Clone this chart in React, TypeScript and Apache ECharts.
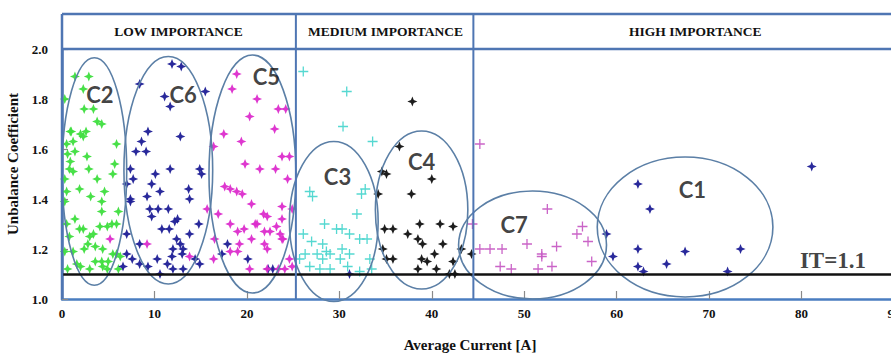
import React, { useEffect, useRef } from "react";
import * as echarts from "echarts";

// ---------- data ----------
const xTickValues = [0, 10, 20, 30, 40, 50, 60, 70, 80, 90];
const yTickValues = [1.0, 1.2, 1.4, 1.6, 1.8, 2.0];

const importanceNames = ["LOW IMPORTANCE", "MEDIUM IMPORTANCE", "HIGH IMPORTANCE"];
const importanceBounds = [0, 25.3, 44.5, 93];
const importanceLabelX = [12.6, 35.0, 68.5];

const itThreshold = 1.1;

const c2Points = [
  [1.4, 1.89], [2.9, 1.89], [2.3, 1.84], [0.3, 1.8], [2.4, 1.76], [3.4, 1.76], [3.8, 1.71], [4.3, 1.7],
  [2.6, 1.67], [2.3, 1.65], [1.0, 1.67], [1.2, 1.63], [0.5, 1.62], [1.4, 1.59], [0.9, 1.55], [0.8, 1.52],
  [1.2, 1.51], [2.9, 1.52], [3.8, 1.48], [4.6, 1.43], [5.5, 1.5], [5.9, 1.62], [0.3, 1.48], [0.5, 1.43],
  [1.9, 1.44], [4.3, 1.35], [6.1, 1.35], [1.4, 1.32], [2.3, 1.28], [3.4, 1.26], [4.1, 1.29], [4.9, 1.29],
  [5.4, 1.3], [5.9, 1.3], [0.5, 1.3], [2.8, 1.22], [3.6, 1.21], [4.4, 1.2], [1.2, 1.19], [5.5, 1.18],
  [6.3, 1.17], [4.3, 1.15], [4.4, 1.13], [1.6, 1.14], [0.6, 1.12], [3.0, 1.12], [6.1, 1.12],
  [0.9, 1.67], [2.0, 1.66], [0.6, 1.58], [2.7, 1.57], [5.7, 1.54], [3.1, 1.41], [4.3, 1.39],
  [0.3, 1.39], [1.9, 1.28], [3.0, 1.25], [0.8, 1.25], [5.9, 1.18], [2.0, 1.13], [5.0, 1.15],
  [0.3, 1.19], [3.6, 1.15], [4.9, 1.12], [2.4, 1.2]
];

const c6Points = [
  [11.9, 1.94], [12.9, 1.93], [8.4, 1.86], [11.1, 1.81], [11.7, 1.77], [15.5, 1.83], [9.3, 1.67],
  [12.8, 1.65], [8.6, 1.63], [8.0, 1.59], [9.1, 1.59], [7.4, 1.52], [11.7, 1.52], [7.7, 1.48],
  [10.1, 1.5], [9.7, 1.46], [10.6, 1.43], [14.9, 1.52], [15.1, 1.5], [13.7, 1.44], [13.8, 1.4],
  [9.2, 1.41], [7.4, 1.39], [9.5, 1.36], [10.4, 1.36], [11.5, 1.36], [9.7, 1.33], [12.5, 1.32],
  [12.2, 1.31], [11.6, 1.28], [10.8, 1.28], [14.8, 1.3], [7.0, 1.26], [12.4, 1.24], [12.8, 1.22],
  [13.1, 1.2], [13.8, 1.26], [8.4, 1.22], [12.0, 1.2], [10.3, 1.16], [11.9, 1.17], [13.0, 1.18],
  [14.4, 1.16], [8.4, 1.14], [9.3, 1.13], [11.4, 1.14], [12.0, 1.12], [10.6, 1.1], [13.1, 1.12],
  [14.9, 1.14], [7.0, 1.18], [7.0, 1.46], [7.4, 1.4], [7.6, 1.16], [6.6, 1.13],
  [17.9, 1.22], [20.1, 1.16], [22.8, 1.12], [22.3, 1.12], [17.3, 1.18], [31.1, 1.1]
];

const c5Points = [
  [18.9, 1.9], [18.4, 1.84], [21.1, 1.8], [20.3, 1.73], [23.4, 1.76], [23.0, 1.68], [17.5, 1.66],
  [19.4, 1.63], [16.4, 1.61], [23.8, 1.57], [19.8, 1.54], [21.4, 1.52], [23.1, 1.52], [24.4, 1.48],
  [17.6, 1.45], [18.2, 1.44], [18.9, 1.43], [19.5, 1.42], [20.5, 1.38], [21.8, 1.34], [22.2, 1.33],
  [23.8, 1.37], [16.9, 1.34], [23.8, 1.32], [18.2, 1.3], [20.9, 1.3], [21.1, 1.3], [23.2, 1.29],
  [19.0, 1.27], [19.7, 1.28], [21.9, 1.27], [22.5, 1.27], [23.6, 1.26], [23.9, 1.24], [16.5, 1.24],
  [19.2, 1.22], [20.5, 1.24], [21.9, 1.22], [23.8, 1.24], [18.2, 1.19], [19.0, 1.19], [22.2, 1.2],
  [16.4, 1.16], [24.6, 1.16], [20.3, 1.12], [22.2, 1.12], [23.4, 1.12], [24.1, 1.12], [24.9, 1.13],
  [15.7, 1.36], [9.2, 1.22], [13.8, 1.17], [5.2, 1.24], [24.2, 1.76], [24.6, 1.57], [24.9, 1.36]
];

const c3Points = [
  [26.1, 1.91], [30.8, 1.83], [30.4, 1.69], [33.6, 1.63], [26.8, 1.43], [27.1, 1.41], [32.8, 1.44],
  [32.4, 1.42], [31.9, 1.34], [28.4, 1.3], [29.7, 1.28], [30.3, 1.28], [31.1, 1.26], [32.2, 1.24],
  [33.0, 1.24], [26.1, 1.26], [27.0, 1.23], [28.2, 1.22], [26.3, 1.18], [27.6, 1.18], [28.6, 1.19],
  [29.0, 1.18], [30.3, 1.2], [31.1, 1.18], [30.1, 1.16], [33.3, 1.16], [26.8, 1.13], [27.9, 1.12],
  [29.0, 1.12], [30.9, 1.13], [32.2, 1.11], [33.5, 1.12], [25.7, 1.16], [28.2, 1.16]
];

const c4Points = [
  [37.9, 1.79], [36.5, 1.61], [34.6, 1.51], [35.1, 1.5], [40.0, 1.48], [37.8, 1.42], [34.2, 1.42],
  [34.9, 1.28], [35.8, 1.28], [38.7, 1.3], [40.9, 1.3], [42.3, 1.29], [37.4, 1.26], [38.5, 1.24],
  [39.0, 1.22], [41.2, 1.22], [34.7, 1.2], [43.2, 1.2], [44.3, 1.18], [40.3, 1.18], [35.1, 1.16],
  [35.8, 1.16], [38.9, 1.16], [39.5, 1.15], [42.3, 1.15], [38.5, 1.12], [40.5, 1.12], [41.9, 1.1],
  [42.5, 1.1]
];

const c7Points = [
  [45.2, 1.62], [52.5, 1.36], [44.4, 1.3], [56.3, 1.29], [55.7, 1.26], [56.9, 1.23], [45.2, 1.2],
  [46.3, 1.2], [47.6, 1.2], [50.3, 1.22], [51.9, 1.18], [51.9, 1.17], [53.5, 1.21], [57.3, 1.15],
  [47.4, 1.13], [48.6, 1.12], [51.5, 1.12], [53.0, 1.13]
];

const c1Points = [
  [62.3, 1.46], [63.6, 1.36], [58.9, 1.26], [59.6, 1.17], [62.3, 1.2], [67.4, 1.19], [73.4, 1.2],
  [65.4, 1.14], [62.3, 1.13], [62.9, 1.11], [72.0, 1.11], [81.1, 1.53]
];

// cluster ellipses: centre and radii in data units
const clusterNames = ["C2", "C6", "C5", "C3", "C4", "C7", "C1"];
const ellipseCx = [3.5, 11.5, 20.6, 29.4, 38.9, 50.9, 67.4];
const ellipseCy = [1.51, 1.515, 1.5, 1.31, 1.356, 1.216, 1.288];
const ellipseRx = [3.5, 4.8, 4.7, 4.8, 5.0, 8.0, 9.5];
const ellipseRy = [0.455, 0.455, 0.476, 0.32, 0.316, 0.216, 0.28];
const clusterLabelX = [4.1, 13.1, 22.1, 29.8, 38.9, 48.9, 68.2];
const clusterLabelY = [1.82, 1.82, 1.89, 1.49, 1.55, 1.3, 1.44];

const itLabel = "IT=1.1";
const itLabelPos = [83.4, 1.156];

// ---------- styles ----------
const SERIF = "'Liberation Serif', 'Times New Roman', serif";
const STAR = "path://M0,-10 L2.8,-2.8 L10,0 L2.8,2.8 L0,10 L-2.8,2.8 L-10,0 L-2.8,-2.8 Z";
const PLUS = "path://M-1.3,-10 L1.3,-10 L1.3,-1.3 L10,-1.3 L10,1.3 L1.3,1.3 L1.3,10 L-1.3,10 L-1.3,1.3 L-10,1.3 L-10,-1.3 L-1.3,-1.3 Z";
const BLUE = "#4f76b3";

function scatter(name: string, data: number[][], color: string, symbol: string, size: number) {
  return {
    name,
    type: "scatter",
    data,
    symbol,
    symbolSize: size,
    itemStyle: { color, opacity: 0.95 },
    silent: true,
    z: 3,
  };
}

export default function App() {
  const ref = useRef<HTMLDivElement>(null);
  useEffect(() => {
    const chart = echarts.init(ref.current!, null, { renderer: "svg" });
    const ellipseData = clusterNames.map((n, i) => [ellipseCx[i], ellipseCy[i], ellipseRx[i], ellipseRy[i]]);
    const labelData = clusterNames.map((n, i) => ({ value: [clusterLabelX[i], clusterLabelY[i]], name: n }));

    chart.setOption({
      animation: false,
      backgroundColor: "#ffffff",
      grid: { left: 62, top: 49, width: 832, height: 250, containLabel: false, outerBoundsMode: "none" },
      xAxis: {
        type: "value",
        min: 0,
        max: 90,
        interval: 10,
        name: "Average Current [A]",
        nameLocation: "middle",
        nameGap: 38,
        nameTextStyle: { fontFamily: SERIF, fontWeight: "bold", fontSize: 15, color: "#111", padding: [0, 16, 0, 0] },
        axisLine: { show: true, lineStyle: { color: "#4a7dc0", width: 2.5 } },
        axisTick: { show: true, inside: true, length: 8, lineStyle: { color: "#8a8a8a", width: 1.2 } },
        axisLabel: {
          fontFamily: SERIF, fontWeight: "bold", fontSize: 13, color: "#111", margin: 8,
          formatter: (v: number) => (xTickValues.includes(v) ? String(v) : ""),
        },
        splitLine: { show: false },
      },
      yAxis: {
        type: "value",
        min: 1.0,
        max: 2.0,
        interval: 0.2,
        name: "Unbalance Coefficient",
        nameLocation: "middle",
        nameGap: 38,
        nameTextStyle: { fontFamily: SERIF, fontWeight: "bold", fontSize: 15, color: "#111", padding: [0, 0, 0, 20] },
        axisLine: { show: true, lineStyle: { color: BLUE, width: 2.5 } },
        axisTick: { show: true, inside: true, length: 6, lineStyle: { color: "#8a8a8a", width: 1.2 } },
        axisLabel: {
          fontFamily: SERIF, fontWeight: "bold", fontSize: 13, color: "#111", margin: 14,
          formatter: (v: number) => (yTickValues.some((t) => Math.abs(t - v) < 1e-6) ? v.toFixed(1) : ""),
        },
        splitLine: { show: false },
      },
      series: [
        scatter("C2", c2Points, "#3ede3e", STAR, 10),
        scatter("C6", c6Points, "#1e1e96", STAR, 10),
        scatter("C5", c5Points, "#dc2ccc", STAR, 10),
        scatter("C3", c3Points, "#4cd6cf", PLUS, 10),
        scatter("C4", c4Points, "#111111", STAR, 10),
        scatter("C7", c7Points, "#c75cc4", PLUS, 10),
        scatter("C1", c1Points, "#1e1e96", STAR, 10),
        {
          type: "custom",
          name: "ellipses",
          coordinateSystem: "cartesian2d",
          clip: false,
          silent: true,
          z: 4,
          data: ellipseData,
          renderItem: (params: any, api: any) => {
            const c = api.coord([api.value(0), api.value(1)]);
            const s = api.size([api.value(2), api.value(3)]);
            return {
              type: "ellipse",
              shape: { cx: c[0], cy: c[1], rx: s[0], ry: s[1] },
              style: { fill: "none", stroke: "#5b7fa6", lineWidth: 1.6 },
            };
          },
        },
        {
          type: "scatter",
          name: "labels",
          symbolSize: 0,
          silent: true,
          z: 5,
          data: labelData,
          label: {
            show: true,
            position: "inside",
            formatter: (p: any) => p.name,
            fontFamily: "Lato, 'Open Sans', sans-serif",
            fontWeight: "bold",
            fontSize: 22,
            color: "#111",
          },
        },
        {
          type: "scatter",
          name: "it",
          symbolSize: 0,
          silent: true,
          z: 5,
          data: [{ value: itLabelPos, name: itLabel }],
          label: {
            show: true,
            position: "inside",
            formatter: (p: any) => p.name,
            fontFamily: SERIF,
            fontWeight: "bold",
            fontSize: 23,
            color: "#111",
          },
          markLine: {
            silent: true,
            symbol: ["none", "none"],
            label: { show: false },
            lineStyle: { color: "#111", width: 2.6, type: "solid" },
            data: [{ yAxis: itThreshold }],
          },
        },
      ],
    });

    const toPx = (x: number, y: number) => chart.convertToPixel({ gridIndex: 0 }, [x, y]) as number[];
    const topLeft = toPx(0, 2.0);
    const bottom = toPx(0, 1.0)[1];
    const headerTop = topLeft[1] - 35;
    const headerMid = (headerTop + topLeft[1]) / 2;
    const graphics: any[] = [
      { type: "line", shape: { x1: topLeft[0], y1: headerTop, x2: 900, y2: headerTop }, style: { stroke: BLUE, lineWidth: 2.5 }, z: 10 },
      { type: "line", shape: { x1: topLeft[0], y1: topLeft[1], x2: 900, y2: topLeft[1] }, style: { stroke: BLUE, lineWidth: 2.5 }, z: 10 },
      { type: "line", shape: { x1: topLeft[0], y1: headerTop, x2: topLeft[0], y2: bottom }, style: { stroke: BLUE, lineWidth: 2.5 }, z: 10 },
    ];
    importanceBounds.slice(1, 3).forEach((b) => {
      const px = toPx(b, 1.0)[0];
      graphics.push({ type: "line", shape: { x1: px, y1: headerTop, x2: px, y2: bottom }, style: { stroke: BLUE, lineWidth: 2 }, z: 10 });
    });
    importanceNames.forEach((n, i) => {
      const px = toPx(importanceLabelX[i], 1.0)[0];
      graphics.push({
        type: "text",
        x: px,
        y: headerMid,
        style: { text: n, fontFamily: SERIF, fontWeight: "bold", fontSize: 13.5, fill: "#111", align: "center", verticalAlign: "middle" },
        z: 11,
      });
    });
    chart.setOption({ graphic: graphics });

    return () => chart.dispose();
  }, []);
  return <div ref={ref} style={{ position: "fixed", left: 0, top: 0, width: 891, height: 354 }} />;
}
